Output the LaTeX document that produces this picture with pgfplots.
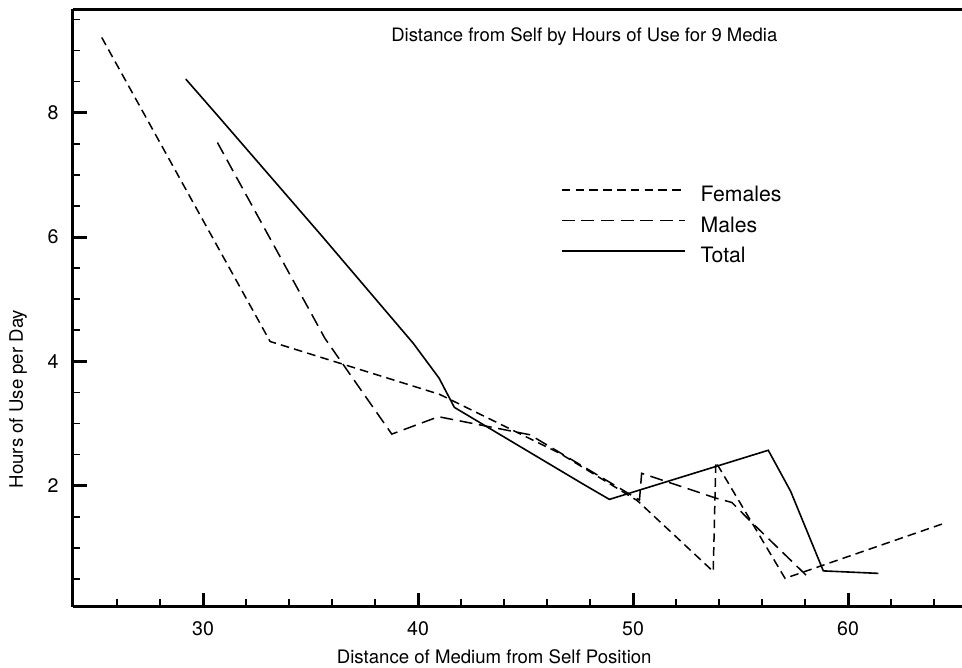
\documentclass[border=0pt]{standalone}
\usepackage{fontspec}
\setmainfont{TeX Gyre Heros}
\usepackage{pgfplots}
\pgfplotsset{compat=1.18}
\begin{document}
\begin{tikzpicture}
\useasboundingbox (-36.35pt,-30.65pt) rectangle (444.65pt,303.35pt);
\begin{axis}[
  at={(0pt,0pt)}, anchor=south west,
  scale only axis, width=444.65pt, height=298.7pt,
  xmin=23.94, xmax=65.30, ymin=0.054, ymax=9.663,
  axis x line=box, axis y line=left,
  every non boxed y axis/.append style={y axis line style={-}},
  axis line style={line width=1.6pt,-},
  xtick={30,40,50,60}, ytick={2,4,6,8},
  minor xtick={26,28,32,34,36,38,42,44,46,48,52,54,56,58,62,64},
  minor ytick={0.5,1,1.5,2.5,3,3.5,4.5,5,5.5,6.5,7,7.5,8.5,9,9.5},
  xtick pos=left, ytick pos=left,
  tick align=inside,
  major tick length=7pt, minor tick length=3.8pt,
  every major tick/.style={line width=1.5pt, black},
  every minor tick/.style={line width=0.8pt, black},
  /pgf/number format/assume math mode=true,
  ticklabel style={font=\fontsize{9.8}{11}\selectfont},
  xticklabel style={yshift=-4pt},
  yticklabel style={xshift=-3.5pt},
  title={Distance from Self by Hours of Use for 9 Media},
  title style={at={(axis description cs:0.5753,0.9264)}, anchor=base, font=\fontsize{9.25}{11}\selectfont},
  xlabel={Distance of Medium from Self Position},
  xlabel style={at={(axis description cs:0.474,-0.0947)}, anchor=base, font=\fontsize{9.3}{11}\selectfont},
  ylabel={Hours of Use per Day},
  ylabel style={at={(axis description cs:-0.0559,0.3477)}, anchor=base, font=\fontsize{9.3}{11}\selectfont},
  legend style={draw=none, fill=none, at={(axis description cs:0.5491,0.7114)}, anchor=north west,
    inner sep=0pt, outer sep=0pt, row sep=0pt, column sep=7.5pt,
    font=\fontsize{10.6}{12}\selectfont,
    nodes={inner sep=0pt, text height=10pt, text depth=5.25pt}},
  legend image code/.code={\draw[#1] (0pt,0.36em) -- (61.5pt,0.36em);},
  legend cell align=left,
]
\addplot[black, line width=0.75pt, dash pattern=on 4.3pt off 2.6pt] coordinates {
  (25.29,9.21) (33.12,4.32) (41.0,3.47) (46.6,2.52) (50.2,1.76)
  (53.73,0.62) (53.85,2.38) (57.07,0.51) (64.51,1.40)
};
\addlegendentry{Females}
\addplot[black, line width=0.75pt, dash pattern=on 6.5pt off 3.3pt] coordinates {
  (30.67,7.52) (35.67,4.37) (38.78,2.83) (40.95,3.11) (45.2,2.82)
  (50.3,1.77) (50.4,2.20) (53.86,1.80) (54.6,1.73) (55.4,1.45) (58.23,0.50)
};
\addlegendentry{Males}
\addplot[black, line width=0.8pt] coordinates {
  (29.2,8.54) (30.74,7.93) (35.57,6.0) (39.78,4.29) (40.98,3.73)
  (41.69,3.26) (47.61,2.04) (48.9,1.78) (56.29,2.57) (57.33,1.91)
  (58.85,0.63) (61.41,0.59)
};
\addlegendentry{Total}
\end{axis}
\end{tikzpicture}
\end{document}
